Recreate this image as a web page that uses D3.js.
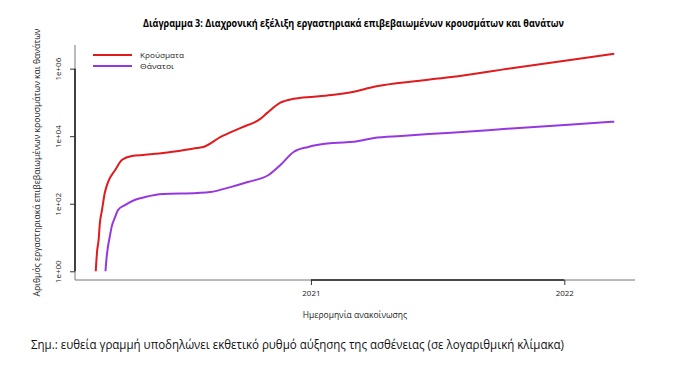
<!DOCTYPE html>
<html>
<head>
<meta charset="utf-8">
<script src="https://cdn.jsdelivr.net/npm/d3@7"></script>
<style>
  body { margin: 0; background: #fff; }
  text { font-family: "Open Sans", "Noto Sans", sans-serif; fill: #222; }
</style>
</head>
<body>
<svg id="chart" width="685" height="377"></svg>
<script>
// cumulative confirmed cases
const caseDates = ["2020-02-26","2020-02-28","2020-03-01","2020-03-03","2020-03-06","2020-03-10","2020-03-15",
  "2020-03-25","2020-04-04","2020-04-18","2020-05-07","2020-06-02","2020-07-21","2020-07-30","2020-08-24",
  "2020-09-22","2020-10-20","2020-10-30","2020-11-18","2020-12-07","2021-01-05","2021-02-03","2021-03-04",
  "2021-04-02","2021-05-11","2021-07-22","2021-10-17","2022-01-07","2022-03-14"];
const caseCounts = [1, 4, 8, 27, 65, 207, 450,
  1000, 2000, 2600, 2800, 3170, 4500, 4800, 9500,
  17700, 32500, 49000, 98000, 128000, 148000, 169000, 208000,
  290000, 382000, 565000, 1030000, 1770000, 2770000];

// cumulative deaths
const deathDates = ["2020-03-11","2020-03-13","2020-03-15","2020-03-17","2020-03-20","2020-03-25","2020-03-29",
  "2020-04-08","2020-04-22","2020-05-07","2020-06-02","2020-07-21","2020-08-09","2020-09-07","2020-10-02",
  "2020-11-01","2020-11-18","2020-12-07","2020-12-28","2021-02-03","2021-03-04","2021-04-02","2021-05-11",
  "2021-07-22","2021-10-17","2022-01-07","2022-03-14"];
const deathCounts = [1, 3, 6, 10, 21, 41, 65,
  91, 129, 158, 194, 208, 222, 311, 440,
  710, 1400, 3400, 4800, 6300, 6800, 8900, 10200,
  12700, 16900, 22000, 27000];

const seriesNames = ["Κρούσματα", "Θάνατοι"];
const seriesColors = ["#E01B1E", "#9638E0"];
const yTicks = [1, 1e2, 1e4, 1e6];
const xTicks = ["2021-01-01", "2022-01-01"];
const xTickLabels = ["2021", "2022"];

const W = 685, H = 377;
const margin = { top: 45, right: 50, bottom: 97, left: 75 };
const width = W - margin.left - margin.right;
const height = H - margin.top - margin.bottom;

const parse = d3.timeParse("%Y-%m-%d");
const series = [
  caseDates.map((d, i) => ({ date: parse(d), value: caseCounts[i] })),
  deathDates.map((d, i) => ({ date: parse(d), value: deathCounts[i] }))
];
const all = series.flat();

// R-style 4% padding of the data range
const [t0, t1] = d3.extent(all, d => +d.date);
const tPad = (t1 - t0) * 0.04;
const [l0, l1] = d3.extent(all, d => Math.log10(d.value));
const lPad = (l1 - l0) * 0.04;

const x = d3.scaleTime().domain([new Date(t0 - tPad), new Date(t1 + tPad)]).range([0, width]);
const y = d3.scaleLog().domain([10 ** (l0 - lPad), 10 ** (l1 + lPad)]).range([height, 0]);

const svg = d3.select("#chart");
const g = svg.append("g").attr("transform", `translate(${margin.left},${margin.top})`);

// L-shaped box
g.append("path")
  .attr("d", `M0,0V${height}H${width}`)
  .attr("fill", "none").attr("stroke", "#777").attr("stroke-width", 1);

// x axis
const xAxis = g.append("g").attr("transform", `translate(0,${height})`)
  .call(d3.axisBottom(x).tickValues(xTicks.map(parse)).tickFormat((d, i) => xTickLabels[i]).tickSize(5).tickSizeOuter(0));
xAxis.select(".domain").remove();
xAxis.append("line")
  .attr("x1", x(parse(xTicks[0]))).attr("x2", x(parse(xTicks[xTicks.length - 1])))
  .attr("stroke", "#222").attr("stroke-width", 1.6);
xAxis.selectAll(".tick line").attr("stroke", "#333");
xAxis.selectAll(".tick text").attr("y", 10).style("font-size", "8px").style("font-family", "Open Sans");

// y axis
const yAxis = g.append("g")
  .call(d3.axisLeft(y).tickValues(yTicks).tickFormat(d => "1e+" + String(Math.round(Math.log10(d))).padStart(2, "0")).tickSize(5));
yAxis.select(".domain").remove();
yAxis.append("line")
  .attr("y1", y(yTicks[0])).attr("y2", y(yTicks[yTicks.length - 1]))
  .attr("stroke", "#222").attr("stroke-width", 1.6);
yAxis.selectAll(".tick line").attr("stroke", "#333");
yAxis.selectAll(".tick text")
  .attr("x", null).attr("dy", null)
  .attr("transform", "translate(-14,0) rotate(-90)")
  .attr("text-anchor", "middle")
  .style("font-size", "8px").style("font-family", "Open Sans");

// lines
const line = d3.line()
  .x(d => x(d.date))
  .y(d => y(d.value))
  .curve(d3.curveMonotoneX);

g.selectAll(".series")
  .data(series)
  .join("path")
  .attr("class", "series")
  .attr("d", line)
  .attr("fill", "none")
  .attr("stroke", (d, i) => seriesColors[i])
  .attr("stroke-width", 2);

// legend
const legend = svg.append("g").attr("transform", "translate(93,55)");
seriesNames.forEach((name, i) => {
  legend.append("line").attr("x1", 0).attr("x2", 39).attr("y1", i * 11).attr("y2", i * 11)
    .attr("stroke", seriesColors[i]).attr("stroke-width", 2.2);
  legend.append("text").attr("x", 47).attr("y", i * 11 + 3)
    .attr("textLength", i === 0 ? 44 : 34).attr("lengthAdjust", "spacingAndGlyphs")
    .text(name)
    .style("font-size", "7.8px");
});

// title & axis titles
svg.append("text").attr("x", 143).attr("y", 27)
  .attr("textLength", 421).attr("lengthAdjust", "spacingAndGlyphs")
  .style("font-size", "10px").style("font-weight", "bold").style("fill", "#000")
  .text("Διάγραμμα 3: Διαχρονική εξέλιξη εργαστηριακά επιβεβαιωμένων κρουσμάτων και θανάτων");

svg.append("text")
  .attr("transform", `translate(40,${margin.top + height / 2}) rotate(-90)`)
  .attr("text-anchor", "middle")
  .attr("textLength", 268).attr("lengthAdjust", "spacingAndGlyphs")
  .style("font-size", "9px")
  .text("Αριθμός εργαστηριακά επιβεβαιωμένων κρουσμάτων και θανάτων");

svg.append("text")
  .attr("x", 355).attr("y", 318)
  .attr("text-anchor", "middle")
  .style("font-size", "8.5px")
  .text("Ημερομηνία ανακοίνωσης");

// footnote
svg.append("text").attr("x", 31).attr("y", 349)
  .attr("textLength", 533).attr("lengthAdjust", "spacingAndGlyphs")
  .style("font-size", "12px").style("fill", "#111")
  .text("Σημ.: ευθεία γραμμή υποδηλώνει εκθετικό ρυθμό αύξησης της ασθένειας (σε λογαριθμική κλίμακα)");
</script>
</body>
</html>
